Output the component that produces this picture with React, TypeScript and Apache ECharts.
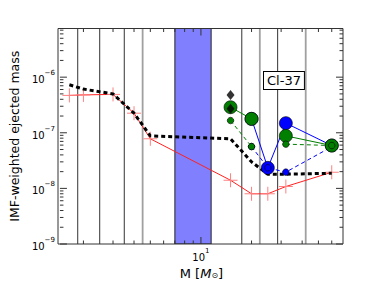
import React, { useEffect, useRef } from "react";
import * as echarts from "echarts";

const X_MIN = 1.45;
const X_MAX = 70;
const Y_MIN = 1e-9;
const Y_MAX = 7.5e-6;

// low + intermediate mass models
const lowMass = [1.65, 2, 3, 4, 5, 15, 20, 25, 32, 60];
const redYield = [4.7e-7, 4.8e-7, 4.9e-7, 2.25e-7, 7.8e-8, 1.4e-8, 8.0e-9, 8.0e-9, 1.08e-8, 1.95e-8];
const blackYield = [7.3e-7, 6.1e-7, 5.0e-7, 2.25e-7, 8.8e-8, 7.8e-8, 3.0e-8, 1.8e-8, 1.8e-8, 1.87e-8];

// massive star models
const massiveMass = [15, 20, 25, 32, 60];
const greenBig = [2.88e-7, 1.78e-7, null, 8.8e-8, 5.9e-8];
const greenSmall = [1.66e-7, 5.65e-8, null, 6.24e-8, 5.9e-8];
const blueBig = [null, 1.78e-7, 2.34e-8, 1.49e-7, 5.9e-8];
const blueSmall = [null, 5.65e-8, 2.34e-8, 1.96e-8, 5.6e-8];

const diamondMass = [15, 15];
const diamondYield = [4.8e-7, 2.7e-7];

const bandRange = [7.0, 11.5];
const darkLines = [1.85, 2.5, 3.5, 17.5, 28.6];
const grayLines = [4.5, 22.4, 42];

const xMajorTicks = [10];
const xMinorTicks = [2, 3, 4, 5, 6, 7, 8, 9, 20, 30, 40, 50, 60];
const yMajorTicks = [1e-9, 1e-8, 1e-7, 1e-6];
const yMinorMult = [2, 3, 4, 5, 6, 7, 8, 9];
const yDecades = [1e-9, 1e-8, 1e-7, 1e-6];

const FONT = "DejaVu Sans";
const GRID = { left: 58, right: 39, top: 28.5, bottom: 44 };

const pair = (xs: number[], ys: (number | null)[]) =>
  xs.map((x, i) => [x, ys[i] == null ? "-" : ys[i]]);

const isPow10 = (v: number) => {
  const l = Math.log10(v);
  return Math.abs(l - Math.round(l)) < 1e-6;
};
const expLabel = (v: number) => {
  const e = Math.round(Math.log10(v));
  return "{b|10}{s|" + (e < 0 ? "\u2212" + -e : String(e)) + "}";
};

const labelRich = {
  b: { fontSize: 10, fontFamily: FONT, color: "#000", lineHeight: 15, verticalAlign: "bottom" },
  s: { fontSize: 7, fontFamily: FONT, color: "#000", verticalAlign: "top", lineHeight: 8 },
};

export default function App() {
  const ref = useRef<HTMLDivElement>(null);
  useEffect(() => {
    if (!ref.current) return;
    const chart = echarts.init(ref.current, undefined, { renderer: "svg" });

    const yMinorTicks: number[] = [];
    yDecades.forEach((d) =>
      yMinorMult.forEach((m) => {
        const v = d * m;
        if (v < Y_MAX) yMinorTicks.push(v);
      })
    );

    const xTickData = [
      ...xMajorTicks.map((v) => [v, Y_MIN, 1]),
      ...xMinorTicks.map((v) => [v, Y_MIN, 0]),
    ];
    const yTickData = [
      ...yMajorTicks.map((v) => [X_MIN, v, 1]),
      ...yMinorTicks.map((v) => [X_MIN, v, 0]),
    ];

    const vline = (color: string, width: number) => (params: any, api: any) => {
      const x = api.value(0);
      const b = api.coord([x, Y_MIN]);
      const t = api.coord([x, Y_MAX]);
      return {
        type: "line",
        shape: { x1: b[0], y1: b[1], x2: t[0], y2: t[1] },
        style: { stroke: color, lineWidth: width },
      };
    };

    const option: any = {
      animation: false,
      grid: { ...GRID, show: false },
      xAxis: {
        type: "log",
        min: X_MIN,
        max: X_MAX,
        axisLine: { show: false },
        axisTick: { show: false },
        splitLine: { show: false },
        axisLabel: {
          margin: 3,
          showMinLabel: false,
          showMaxLabel: false,
          formatter: (v: number) => (isPow10(v) ? expLabel(v) : ""),
          rich: labelRich,
        },
        name: "{n|M [}{i|M}{o|\u2299}{n|]}",
        nameLocation: "middle",
        nameGap: 15,
        nameTextStyle: {
          rich: {
            n: { fontSize: 13, fontFamily: FONT, color: "#000", lineHeight: 17, verticalAlign: "bottom" },
            i: { fontSize: 13, fontFamily: FONT, fontStyle: "italic", color: "#000", lineHeight: 17, verticalAlign: "bottom" },
            o: { fontSize: 8, fontFamily: FONT, color: "#000", verticalAlign: "bottom", lineHeight: 8 },
          },
        },
      },
      yAxis: {
        type: "log",
        min: Y_MIN,
        max: Y_MAX,
        axisLine: { show: false },
        axisTick: { show: false },
        splitLine: { show: false },
        axisLabel: {
          margin: 5,
          showMaxLabel: false,
          formatter: (v: number) => (isPow10(v) ? expLabel(v) : ""),
          rich: labelRich,
        },
        name: "IMF-weighted ejected mass",
        nameLocation: "middle",
        nameGap: 29,
        nameTextStyle: { fontSize: 12.5, fontFamily: FONT, color: "#000" },
      },
      graphic: [
        {
          type: "rect",
          z: 100,
          silent: true,
          shape: {
            x: GRID.left,
            y: GRID.top,
            width: 382 - GRID.left - GRID.right,
            height: 288 - GRID.top - GRID.bottom,
          },
          style: { fill: "none", stroke: "#333", lineWidth: 1 },
        },
        {
          type: "text",
          z: 100,
          left: 263,
          top: 71,
          style: {
            text: "Cl-37",
            fontSize: 13,
            fontFamily: FONT,
            fill: "#000",
            backgroundColor: "#fff",
            borderColor: "#000",
            borderWidth: 1,
            padding: [2, 3, 2, 3],
          },
        },
      ],
      series: [
        {
          type: "custom",
          name: "band",
          z: 1,
          silent: true,
          clip: true,
          data: [[bandRange[0], Y_MIN, bandRange[1]]],
          renderItem: (params: any, api: any) => {
            const a = api.coord([api.value(0), Y_MAX]);
            const b = api.coord([api.value(2), Y_MIN]);
            return {
              type: "rect",
              shape: { x: a[0], y: a[1], width: b[0] - a[0], height: b[1] - a[1] },
              style: { fill: "#8080ff", stroke: "#222", lineWidth: 1 },
            };
          },
        },
        {
          type: "custom",
          name: "darkLines",
          z: 1,
          silent: true,
          data: darkLines.map((m) => [m, Y_MIN]),
          renderItem: vline("#333", 1),
        },
        {
          type: "custom",
          name: "grayLines",
          z: 1,
          silent: true,
          data: grayLines.map((m) => [m, Y_MIN]),
          renderItem: vline("#a0a0a0", 1.8),
        },
        {
          type: "line",
          name: "red",
          z: 3,
          data: pair(lowMass, redYield),
          showAllSymbol: true,
          symbol: "path://M0,7 L14,7 M7,0 L7,14",
          symbolSize: 14,
          lineStyle: { color: "#ff2020", width: 1 },
          itemStyle: { color: "#ff2020", borderColor: "#ff8080", borderWidth: 1 },
        },
        {
          type: "line",
          name: "black",
          z: 4,
          data: pair(lowMass, blackYield),
          symbol: "none",
          lineStyle: { color: "#000", width: 3, type: [4, 3] },
        },
        {
          type: "line",
          name: "blueBig",
          z: 5,
          data: pair(massiveMass, blueBig),
          showAllSymbol: true,
          symbol: "circle",
          symbolSize: 13,
          lineStyle: { color: "#0000ff", width: 1 },
          itemStyle: { color: "#0000ff", borderColor: "#000", borderWidth: 0.6 },
        },
        {
          type: "line",
          name: "blueSmall",
          z: 5,
          data: pair(massiveMass, blueSmall),
          showAllSymbol: true,
          symbol: "circle",
          symbolSize: 6.5,
          lineStyle: { color: "#0000ff", width: 1, type: [4, 3] },
          itemStyle: { color: "#0000ff", borderColor: "#000", borderWidth: 0.6 },
        },
        {
          type: "line",
          name: "greenBig",
          z: 6,
          data: pair(massiveMass, greenBig),
          showAllSymbol: true,
          symbol: "circle",
          symbolSize: 13,
          lineStyle: { color: "#007f00", width: 1 },
          itemStyle: { color: "#007f00", borderColor: "#000", borderWidth: 0.6 },
        },
        {
          type: "line",
          name: "greenSmall",
          z: 6,
          data: pair(massiveMass, greenSmall),
          showAllSymbol: true,
          symbol: "circle",
          symbolSize: 6.5,
          lineStyle: { color: "#007f00", width: 1, type: [4, 3] },
          itemStyle: { color: "#007f00", borderColor: "#000", borderWidth: 0.6 },
        },
        {
          type: "scatter",
          name: "diamonds",
          z: 7,
          data: pair(diamondMass, diamondYield),
          symbol: "diamond",
          symbolSize: [8, 10],
          itemStyle: { color: "#000" },
        },
        {
          type: "custom",
          name: "xTicks",
          z: 8,
          silent: true,
          clip: false,
          data: xTickData,
          renderItem: (params: any, api: any) => {
            const v = api.value(0);
            const len = api.value(2) ? 7 : 3.5;
            const b = api.coord([v, Y_MIN]);
            const t = api.coord([v, Y_MAX]);
            return {
              type: "group",
              children: [
                { type: "line", shape: { x1: b[0], y1: b[1], x2: b[0], y2: b[1] - len }, style: { stroke: "#333", lineWidth: 1 } },
                { type: "line", shape: { x1: t[0], y1: t[1], x2: t[0], y2: t[1] + len }, style: { stroke: "#333", lineWidth: 1 } },
              ],
            };
          },
        },
        {
          type: "custom",
          name: "yTicks",
          z: 8,
          silent: true,
          clip: false,
          data: yTickData,
          renderItem: (params: any, api: any) => {
            const v = api.value(1);
            const len = api.value(2) ? 7 : 3.5;
            const l = api.coord([X_MIN, v]);
            const r = api.coord([X_MAX, v]);
            return {
              type: "group",
              children: [
                { type: "line", shape: { x1: l[0], y1: l[1], x2: l[0] + len, y2: l[1] }, style: { stroke: "#333", lineWidth: 1 } },
                { type: "line", shape: { x1: r[0], y1: r[1], x2: r[0] - len, y2: r[1] }, style: { stroke: "#333", lineWidth: 1 } },
              ],
            };
          },
        },
      ],
    };

    chart.setOption(option);
    return () => chart.dispose();
  }, []);

  return (
    <div
      ref={ref}
      style={{ position: "absolute", left: 0, top: 0, width: 382, height: 288, background: "#fff" }}
    />
  );
}
